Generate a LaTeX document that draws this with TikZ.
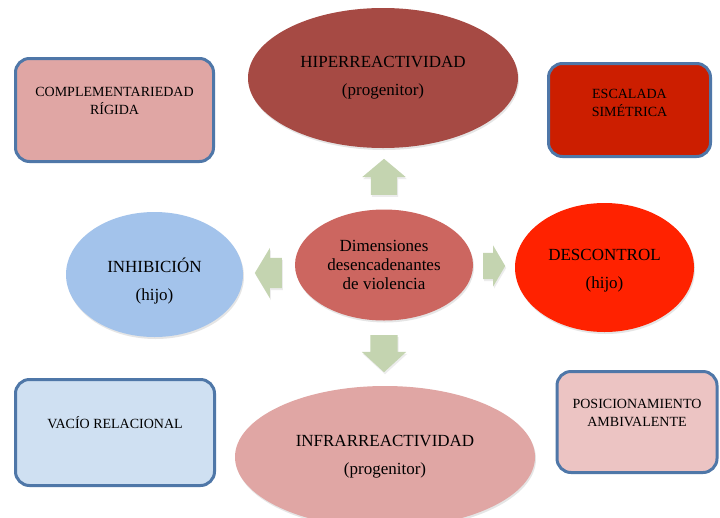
\documentclass[tikz,border=0pt]{standalone}
\usepackage{fontspec}
\setmainfont{Liberation Serif}
\usetikzlibrary{shapes.geometric, shapes.arrows, shadows}

\definecolor{hiperred}{RGB}{166,74,68}
\definecolor{dimred}{RGB}{204,102,96}
\definecolor{inhibblue}{RGB}{163,195,235}
\definecolor{descred}{RGB}{255,34,0}
\definecolor{infrapink}{RGB}{224,166,164}
\definecolor{escred}{RGB}{204,30,0}
\definecolor{vacioblue}{RGB}{207,224,242}
\definecolor{pospink}{RGB}{236,196,195}
\definecolor{frameblue}{RGB}{79,119,168}
\definecolor{arrowgreen}{RGB}{196,212,176}

\begin{document}
\begin{tikzpicture}[x=1pt,y=-1pt,
    ell/.style={ellipse, inner sep=0pt, align=center, font=\fontsize{17}{21}\selectfont,
        drop shadow={shadow xshift=1pt, shadow yshift=-2pt, opacity=0.2}},
    elltext/.style={align=center, font=\fontsize{17}{21}\selectfont},
    cbox/.style={draw=frameblue, line width=3pt, rounded corners=14pt, inner sep=0pt},
    boxtext/.style={align=center, font=\fontsize{14}{17.5}\selectfont},
    blockarrow/.style={single arrow, fill=arrowgreen, inner xsep=0pt, anchor=tail,
        drop shadow={shadow xshift=1pt, shadow yshift=-2pt, opacity=0.15}}]
    \fill[white] (0,0) rectangle (720,517);
    \useasboundingbox (0,0) rectangle (720,517);

    % dimensiones
    \node[ell, fill=hiperred, minimum width=270pt, minimum height=140pt] (hiper) at (383,78) {HIPERREACTIVIDAD\\[7pt](progenitor)};
    \node[ell, fill=infrapink, minimum width=300pt, minimum height=142pt] (infra) at (385,457) {INFRARREACTIVIDAD\\[7pt](progenitor)};
    \node[ell, fill=inhibblue, minimum width=177pt, minimum height=125pt] (inhib) at (154.5,274.5) {};
    \node[elltext] (inhib-t) at ([yshift=-7pt]inhib.center) {INHIBICIÓN\\[7pt](hijo)};
    \node[ell, fill=descred, minimum width=179pt, minimum height=129pt] (desc) at (604.5,267.5) {};
    \node[elltext] (desc-t) at ([yshift=-3pt]desc.center) {DESCONTROL\\[7pt](hijo)};
    \node[ell, fill=dimred, minimum width=178pt, minimum height=111pt, font=\fontsize{17}{19}\selectfont] (dim) at (384,265) {Dimensiones\\desencadenantes\\de violencia};

    % flechas
    \node[blockarrow, rotate=90, minimum height=36pt, inner ysep=13pt, single arrow head extend=8.5pt, single arrow tip angle=100] (aup) at (384,195) {};
    \node[blockarrow, rotate=-90, minimum height=37pt, inner ysep=13.5pt, single arrow head extend=8.5pt, single arrow tip angle=95] (adown) at (384,335) {};
    \node[blockarrow, rotate=180, minimum height=27pt, inner ysep=15pt, single arrow head extend=10pt, single arrow tip angle=118] (aleft) at (282,273) {};
    \node[blockarrow, minimum height=22pt, inner ysep=13pt, single arrow head extend=7.5pt, single arrow tip angle=119] (aright) at (483,266) {};

    % cuadros
    \node[cbox, fill=infrapink, minimum width=198pt, minimum height=103pt] (comp) at (114.5,110) {};
    \node[boxtext] (comp-t) at ([yshift=9pt]comp.center) {COMPLEMENTARIEDAD\\RÍGIDA};
    \node[cbox, fill=escred, minimum width=162pt, minimum height=93pt] (esc) at (629.5,110) {};
    \node[boxtext] (esc-t) at ([yshift=7pt]esc.center) {ESCALADA\\SIMÉTRICA};
    \node[cbox, fill=vacioblue, minimum width=199pt, minimum height=106pt] (vacio) at (115,432.5) {};
    \node[boxtext] (vacio-t) at ([yshift=10pt]vacio.center) {VACÍO RELACIONAL};
    \node[cbox, fill=pospink, minimum width=160pt, minimum height=101pt] (pos) at (637,422) {};
    \node[boxtext] (pos-t) at ([yshift=9pt]pos.center) {POSICIONAMIENTO\\AMBIVALENTE};
\end{tikzpicture}
\end{document}
